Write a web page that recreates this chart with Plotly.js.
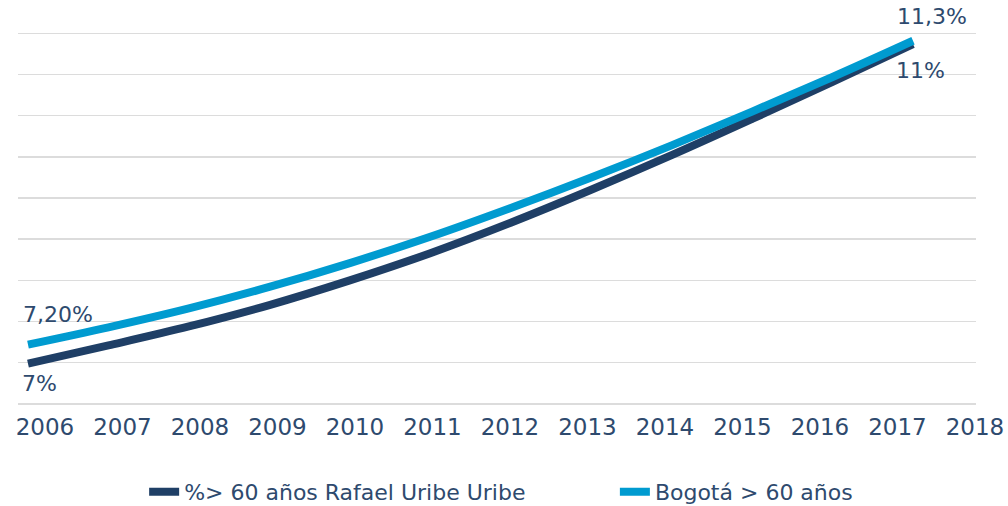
<!DOCTYPE html>
<html>
<head>
<meta charset="utf-8">
<script src="https://cdn.plot.ly/plotly-3.0.1.min.js"></script>
<style>
html,body{margin:0;padding:0;background:#fff;}
#chart{width:1008px;height:506px;}
</style>
</head>
<body>
<div id="chart"></div>
<script>
const years = [2006, 2007, 2008, 2009, 2010, 2011, 2012, 2013, 2014, 2015, 2016, 2017];
const tickYears = [2006, 2007, 2008, 2009, 2010, 2011, 2012, 2013, 2014, 2015, 2016, 2017, 2018];
const rafaelUribe = [6.99, 7.21, 7.44, 7.70, 8.00, 8.33, 8.70, 9.10, 9.52, 9.96, 10.41, 10.87];
const bogota = [7.22, 7.43, 7.66, 7.92, 8.21, 8.53, 8.88, 9.25, 9.64, 10.05, 10.47, 10.91];
const seriesNames = ['%> 60 años Rafael Uribe Uribe', 'Bogotá > 60 años'];
const rafaelLabels = ['7%', '11%'];
const bogotaLabels = ['7,20%', '11,3%'];

const darkBlue = '#1F3F66';
const lightBlue = '#009BD0';
const textColor = '#2E4A6E';
const font = 'DejaVu Sans, sans-serif';

const traces = [
  // empty carrier so the year-label axis is drawn
  {x: tickYears, y: tickYears.map(() => null), type: 'scatter', mode: 'lines',
   xaxis: 'x', showlegend: false, hoverinfo: 'skip'},
  {x: years, y: rafaelUribe, name: seriesNames[0], type: 'scatter', mode: 'lines',
   xaxis: 'x2', legend: 'legend', line: {color: darkBlue, width: 8, shape: 'spline'}, hoverinfo: 'skip'},
  {x: years, y: bogota, name: seriesNames[1], type: 'scatter', mode: 'lines',
   xaxis: 'x2', legend: 'legend2', line: {color: lightBlue, width: 8, shape: 'spline'}, hoverinfo: 'skip'}
];

const last = years.length - 1;
const annotations = [
  {x: years[0], y: rafaelUribe[0], text: rafaelLabels[0], xref: 'x2', yref: 'y', showarrow: false, xshift: 12, yshift: -20},
  {x: years[0], y: bogota[0], text: bogotaLabels[0], xref: 'x2', yref: 'y', showarrow: false, xshift: 30, yshift: 30},
  {x: years[last], y: bogota[last], text: bogotaLabels[1], xref: 'x2', yref: 'y', showarrow: false, xshift: 19, yshift: 24},
  {x: years[last], y: rafaelUribe[last], text: rafaelLabels[1], xref: 'x2', yref: 'y', showarrow: false, xshift: 7, yshift: -26}
].map(a => Object.assign(a, {font: {family: font, size: 22, color: textColor}}));

const legendBase = {
  orientation: 'h', xref: 'container', yref: 'container',
  xanchor: 'left', y: 0.028, yanchor: 'middle',
  font: {family: font, size: 22, color: textColor}, bgcolor: 'rgba(0,0,0,0)'
};

const layout = {
  width: 1008, height: 506,
  margin: {l: 18, r: 32, t: 20, b: 98},
  paper_bgcolor: '#fff', plot_bgcolor: '#fff',
  showlegend: true,
  font: {family: font, color: textColor},
  xaxis: {
    range: [2005.652, 2018.013],
    tickvals: tickYears, ticktext: tickYears.map(String),
    showgrid: false, zeroline: false, showline: false, ticks: '',
    ticklabelstandoff: 3,
    tickfont: {family: font, size: 23, color: textColor}, fixedrange: true
  },
  xaxis2: {
    overlaying: 'x', range: [2005.876, 2017.783],
    visible: false, showgrid: false, zeroline: false, fixedrange: true
  },
  yaxis: {
    range: [6.45, 11.162], dtick: 0.5, tick0: 6.5,
    showticklabels: false, showgrid: true, gridcolor: '#DCDCDC', gridwidth: 1.5,
    zeroline: false, showline: false, ticks: '', fixedrange: true
  },
  legend: Object.assign({x: 0.143}, legendBase),
  legend2: Object.assign({x: 0.610}, legendBase),
  annotations: annotations
};

Plotly.newPlot('chart', traces, layout, {displayModeBar: false, staticPlot: true});
</script>
</body>
</html>
